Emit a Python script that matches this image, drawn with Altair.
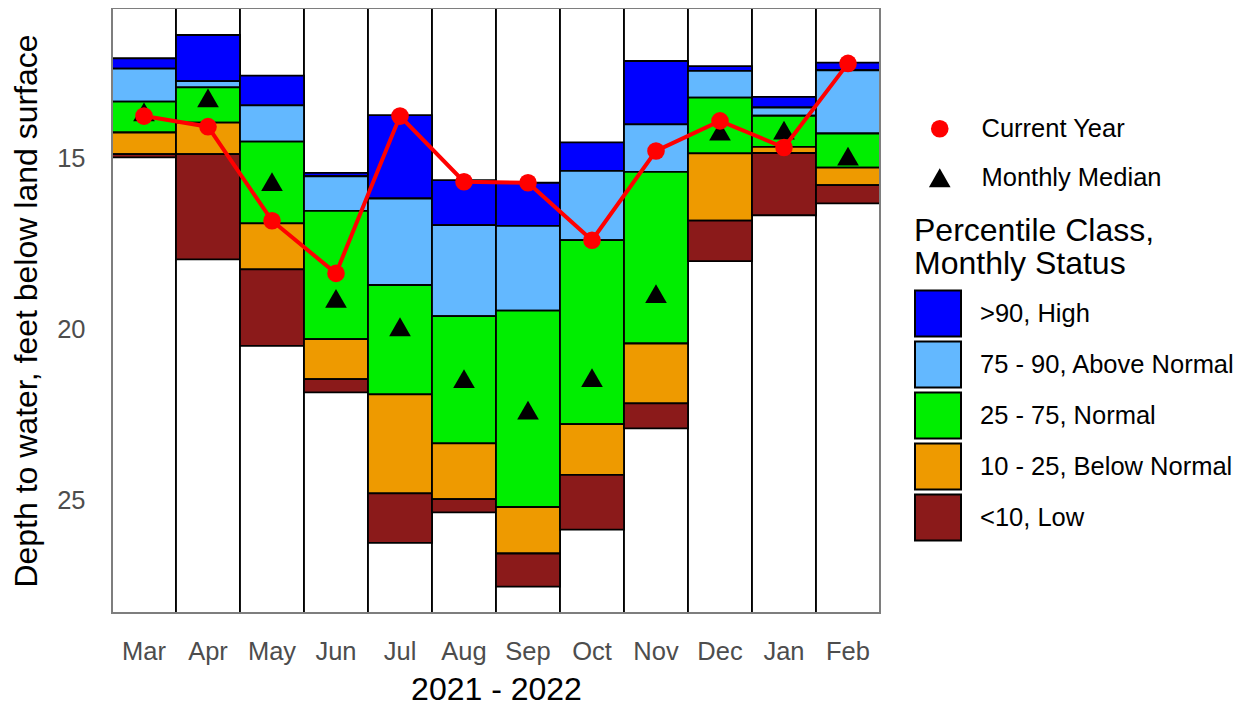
import altair as alt
import pandas as pd

months = ["Mar", "Apr", "May", "Jun", "Jul", "Aug", "Sep", "Oct", "Nov", "Dec", "Jan", "Feb"]

# percentile class boundaries (depth to water, ft)
max_d = [12.08, 11.40, 12.59, 15.43, 13.74, 15.64, 15.72, 14.54, 12.16, 12.31, 13.21, 12.21]
p90 = [12.38, 12.75, 13.46, 15.53, 16.18, 16.96, 16.98, 15.37, 14.01, 12.45, 13.52, 12.43]
p75 = [13.35, 12.93, 14.52, 16.54, 18.71, 19.62, 19.46, 17.40, 15.40, 13.23, 13.76, 14.28]
p25 = [14.25, 13.96, 16.91, 20.29, 21.91, 23.34, 25.20, 22.78, 20.42, 14.86, 14.67, 15.28]
p10 = [14.88, 14.88, 18.25, 21.46, 24.80, 24.97, 26.56, 24.26, 22.17, 16.83, 14.85, 15.79]
min_d = [14.98, 17.96, 20.49, 21.85, 26.25, 25.36, 27.53, 25.86, 22.90, 18.01, 16.67, 16.32]

current = [13.77, 14.08, 16.83, 18.37, 13.77, 15.69, 15.72, 17.40, 14.79, 13.91, 14.69, 12.23]
median = [13.65, 13.24, 15.69, 19.10, 19.93, 21.45, 22.37, 21.42, 18.96, 14.21, 14.18, 14.94]

classes = [">90, High", "75 - 90, Above Normal", "25 - 75, Normal", "10 - 25, Below Normal", "<10, Low"]
class_colors = ["#0000FF", "#63B8FF", "#00EE00", "#EE9A00", "#8B1A1A"]
series = ["Current Year", "Monthly Median"]
series_colors = ["#FF0000", "#000000"]
series_shapes = ["circle", "triangle-up"]
series_sizes = [310, 470]

y_domain = [10.61, 28.30]
col_extent = [9.0, 30.0]

# tables
cols_df = pd.DataFrame({"month": months, "top": [col_extent[0]] * 12, "bottom": [col_extent[1]] * 12})
rect_rows = []
bounds = [max_d, p90, p75, p25, p10, min_d]
for i, m in enumerate(months):
    for k, c in enumerate(classes):
        rect_rows.append({"month": m, "cls": c, "top": bounds[k][i], "bottom": bounds[k + 1][i]})
rect_df = pd.DataFrame(rect_rows)
cur_df = pd.DataFrame({"month": months, "value": current, "series": ["Current Year"] * 12})
med_df = pd.DataFrame({"month": months, "value": median, "series": ["Monthly Median"] * 12})

FONT = "Liberation Sans"
LAB = 25.5
TIT = 32

x_enc = alt.X(
    "month:N", sort=months,
    scale=alt.Scale(paddingInner=0, paddingOuter=0),
    axis=alt.Axis(
        title="2021 - 2022", labelAngle=0, labelFontSize=LAB, labelColor="#4D4D4D",
        labelPadding=26, ticks=False, tickSize=0, domain=False, grid=False,
        titleFontSize=TIT, titleFontWeight="normal", titleColor="black", titlePadding=10,
        labelFont=FONT, titleFont=FONT,
    ),
)
y_scale = alt.Scale(domain=y_domain, reverse=True, nice=False, zero=False)
y_axis = alt.Axis(
    title="Depth to water, feet below land surface", values=[15, 20, 25],
    labelFontSize=LAB, labelColor="#4D4D4D", labelPadding=27, ticks=False, tickSize=0,
    domain=False, grid=False, titleFontSize=TIT, titleFontWeight="normal", titleColor="black",
    titlePadding=13, labelFont=FONT, titleFont=FONT,
)

series_legend = alt.Legend(
    title=None, orient="none", legendX=815, legendY=108,
    labelFontSize=LAB, labelColor="black", labelFont=FONT, labelOffset=29,
    rowPadding=22, symbolStrokeWidth=0, labelLimit=400,
)
color_s = alt.Color("series:N", scale=alt.Scale(domain=series, range=series_colors), legend=series_legend)
shape_s = alt.Shape("series:N", scale=alt.Scale(domain=series, range=series_shapes), legend=series_legend)
size_s = alt.Size("series:N", scale=alt.Scale(domain=series, range=series_sizes), legend=series_legend)

cols = alt.Chart(cols_df).mark_bar(fill="white", stroke="black", strokeWidth=1.8, clip=True).encode(
    x=x_enc, y=alt.Y("top:Q", scale=y_scale, axis=y_axis), y2="bottom:Q"
)

rects = alt.Chart(rect_df).mark_bar(stroke="black", strokeWidth=1.8, opacity=1).encode(
    x=alt.X("month:N", sort=months),
    y=alt.Y("top:Q", scale=y_scale),
    y2="bottom:Q",
    fill=alt.Fill(
        "cls:N",
        scale=alt.Scale(domain=classes, range=class_colors),
        legend=alt.Legend(
            title=["Percentile Class,", "Monthly Status"], orient="none", legendX=802, legendY=208,
            titleFontSize=TIT, titleFontWeight="normal", titleColor="black", titleFont=FONT,
            titleLineHeight=32.5, titlePadding=9, titleLimit=500,
            labelFontSize=LAB, labelColor="black", labelFont=FONT, labelOffset=18, labelLimit=400,
            symbolType="square", symbolSize=2116, symbolStrokeColor="black", symbolStrokeWidth=2,
            symbolOpacity=1, rowPadding=-5,
        ),
    ),
)

meds = alt.Chart(med_df).mark_point(filled=True, opacity=1).encode(
    x=alt.X("month:N", sort=months), y=alt.Y("value:Q", scale=y_scale),
    color=color_s, shape=shape_s, size=size_s,
)

line = alt.Chart(cur_df).mark_line(color="#FF0000", strokeWidth=4).encode(
    x=alt.X("month:N", sort=months), y=alt.Y("value:Q", scale=y_scale),
)

pts = alt.Chart(cur_df).mark_point(filled=True, opacity=1).encode(
    x=alt.X("month:N", sort=months), y=alt.Y("value:Q", scale=y_scale),
    color=color_s, shape=shape_s, size=size_s,
)

frame = alt.Chart(cols_df).mark_rect(fillOpacity=0, stroke="#7F7F7F", strokeWidth=1.5).encode(
    x=alt.value(0), x2=alt.value(768), y=alt.value(0), y2=alt.value(605)
)

chart = (
    alt.layer(cols, rects, meds, line, pts, frame)
    .properties(
        width=768, height=605,
        autosize=alt.AutoSizeParams(type="none"),
        padding={"left": 104, "top": 0, "right": 356, "bottom": 94},
    )
    .configure(font=FONT)
    .configure_view(stroke="#7F7F7F", strokeWidth=1.5)
)

chart.save("out.html", embed_options={"renderer": "svg", "actions": False})
